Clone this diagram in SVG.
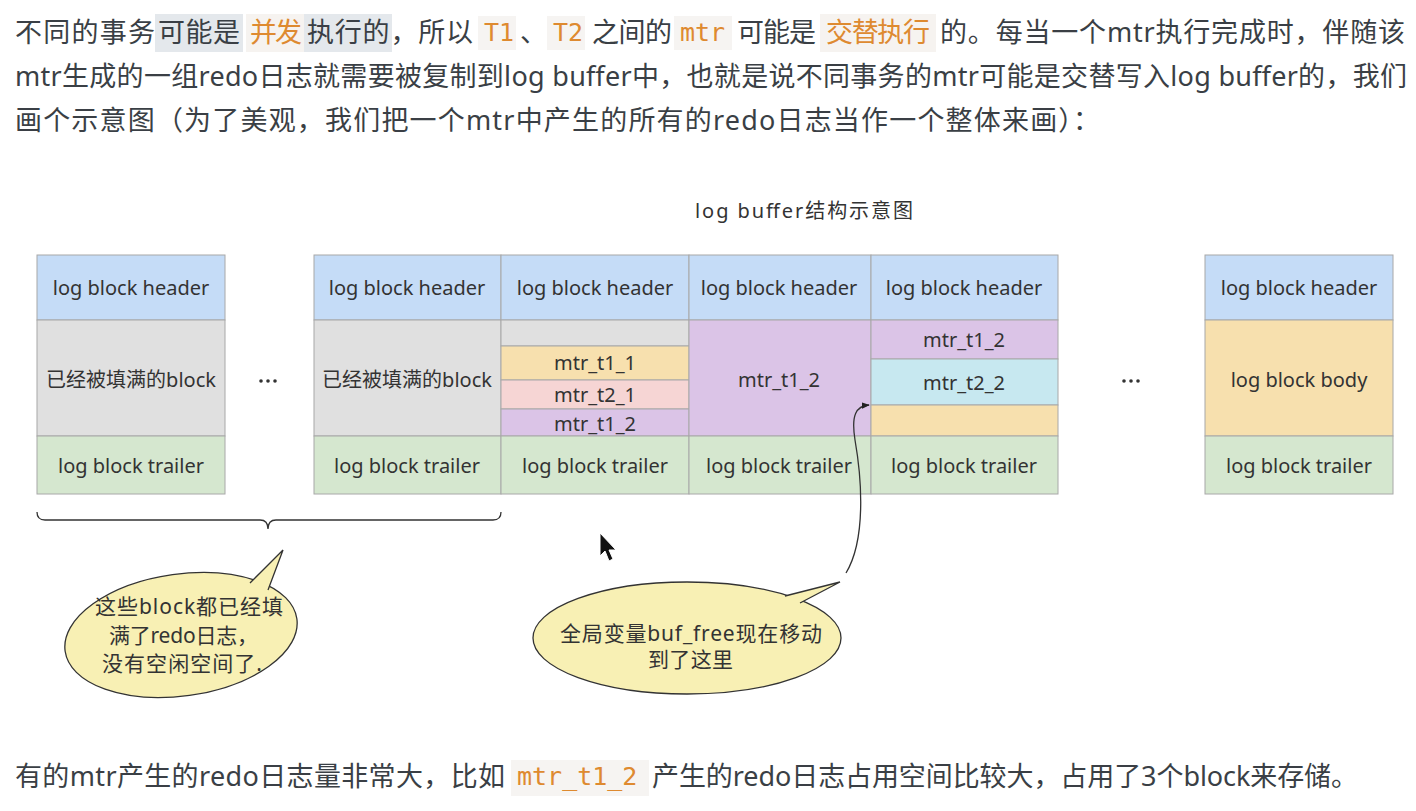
<svg xmlns="http://www.w3.org/2000/svg" width="1416" height="811" viewBox="0 0 1416 811">
<style>
.p{font-family:"Noto Sans","Noto Sans CJK SC",sans-serif;font-size:27px;fill:#3a3f45}
.o{fill:#de8a30}
.m{font-family:"DejaVu Sans Mono","Liberation Mono",monospace;font-size:25px;fill:#de8a30}
.t{font-family:"Noto Sans","Noto Sans CJK SC",sans-serif;font-size:20px;fill:#333;text-anchor:middle}
.b{font-family:"Noto Sans","Noto Sans CJK SC",sans-serif;font-size:21px;fill:#333}
.c{stroke:#a8a8a8;stroke-width:1}
.hd{fill:#c5dcf7}.gy{fill:#e0e0e0}.tr{fill:#d5e7cf}.ye{fill:#f7e0ae}.pk{fill:#f6d5d4}.pu{fill:#dbc4e7}.cy{fill:#c7e8f0}
.bub{fill:#f8f0b4;stroke:#333;stroke-width:1.3}
</style>
<defs>
<marker id="ah" viewBox="0 0 10 10" refX="9" refY="5" markerWidth="8" markerHeight="8" orient="auto" markerUnits="userSpaceOnUse">
<path d="M0,1 L10,5 L0,9 z" fill="#222"/>
</marker>
</defs>
<rect width="1416" height="811" fill="#fff"/>

<g id="para-top">
<rect x="155" y="14" width="88" height="38" fill="#e4e8ec"/>
<rect x="246" y="14" width="58" height="38" fill="#f6f3f0"/>
<rect x="304" y="14" width="88" height="38" fill="#e4e8ec"/>
<rect x="478" y="16" width="38" height="34" fill="#f6f4f2"/>
<rect x="547" y="16" width="38" height="34" fill="#f6f4f2"/>
<rect x="674" y="16" width="58" height="34" fill="#f6f4f2"/>
<rect x="820" y="14" width="116" height="38" fill="#f6f3f0"/>
<text class="p" x="15" y="42" textLength="140" lengthAdjust="spacing">不同的事务</text>
<text class="p" x="158" y="42" textLength="82" lengthAdjust="spacing">可能是</text>
<text class="p o" x="250" y="42" textLength="52" lengthAdjust="spacing">并发</text>
<text class="p" x="307" y="42" textLength="166" lengthAdjust="spacing">执行的，所以</text>
<text class="m" x="484" y="41">T1</text>
<text class="p" x="520" y="42">、</text>
<text class="m" x="553" y="41">T2</text>
<text class="p" x="592" y="42" textLength="80" lengthAdjust="spacing">之间的</text>
<text class="m" x="680" y="41">mtr</text>
<text class="p" x="737" y="42" textLength="79" lengthAdjust="spacing">可能是</text>
<text class="p o" x="826" y="42" textLength="104" lengthAdjust="spacing">交替执行</text>
<text class="p" x="940" y="42" textLength="465" lengthAdjust="spacing">的。每当一个mtr执行完成时，伴随该</text>
<text class="p" x="15" y="86" textLength="1392" lengthAdjust="spacing">mtr生成的一组redo日志就需要被复制到log buffer中，也就是说不同事务的mtr可能是交替写入log buffer的，我们</text>
<text class="p" x="15" y="130" textLength="1085" lengthAdjust="spacing">画个示意图（为了美观，我们把一个mtr中产生的所有的redo日志当作一个整体来画）：</text>
</g>

<g id="title">
<text class="t" x="804" y="218" font-size="22" textLength="218" lengthAdjust="spacing">log buffer结构示意图</text>
</g>

<g id="block1">
<rect class="hd c" x="37" y="255" width="188" height="65"/>
<rect class="gy c" x="37" y="320" width="188" height="116"/>
<rect class="tr c" x="37" y="436" width="188" height="58"/>
<text class="t" x="131" y="295">log block header</text>
<text class="t" x="131" y="387">已经被填满的block</text>
<text class="t" x="131" y="473">log block trailer</text>
</g>

<g id="dots1" fill="#333">
<circle cx="261" cy="381" r="1.8"/><circle cx="268" cy="381" r="1.8"/><circle cx="275" cy="381" r="1.8"/>
</g>

<g id="block2">
<rect class="hd c" x="314" y="255" width="187" height="65"/>
<rect class="gy c" x="314" y="320" width="187" height="116"/>
<rect class="tr c" x="314" y="436" width="187" height="58"/>
<text class="t" x="407" y="295">log block header</text>
<text class="t" x="407" y="387">已经被填满的block</text>
<text class="t" x="407" y="473">log block trailer</text>
</g>

<g id="block3">
<rect class="hd c" x="501" y="255" width="188" height="65"/>
<rect class="gy c" x="501" y="320" width="188" height="26"/>
<rect class="ye c" x="501" y="346" width="188" height="34"/>
<rect class="pk c" x="501" y="380" width="188" height="29"/>
<rect class="pu c" x="501" y="409" width="188" height="27"/>
<rect class="tr c" x="501" y="436" width="188" height="58"/>
<text class="t" x="595" y="295">log block header</text>
<text class="t" x="595" y="370">mtr_t1_1</text>
<text class="t" x="595" y="402">mtr_t2_1</text>
<text class="t" x="595" y="431">mtr_t1_2</text>
<text class="t" x="595" y="473">log block trailer</text>
</g>

<g id="block4">
<rect class="hd c" x="689" y="255" width="182" height="65"/>
<rect class="pu c" x="689" y="320" width="182" height="116"/>
<rect class="tr c" x="689" y="436" width="182" height="58"/>
<text class="t" x="779" y="295">log block header</text>
<text class="t" x="779" y="387">mtr_t1_2</text>
<text class="t" x="779" y="473">log block trailer</text>
</g>

<g id="block5">
<rect class="hd c" x="871" y="255" width="187" height="65"/>
<rect class="pu c" x="871" y="320" width="187" height="39"/>
<rect class="cy c" x="871" y="359" width="187" height="46"/>
<rect class="ye c" x="871" y="405" width="187" height="31"/>
<rect class="tr c" x="871" y="436" width="187" height="58"/>
<text class="t" x="964" y="295">log block header</text>
<text class="t" x="964" y="347">mtr_t1_2</text>
<text class="t" x="964" y="390">mtr_t2_2</text>
<text class="t" x="964" y="473">log block trailer</text>
</g>

<g id="dots2" fill="#333">
<circle cx="1124" cy="381" r="1.8"/><circle cx="1131" cy="381" r="1.8"/><circle cx="1138" cy="381" r="1.8"/>
</g>

<g id="block6">
<rect class="hd c" x="1205" y="255" width="188" height="65"/>
<rect class="ye c" x="1205" y="320" width="188" height="116"/>
<rect class="tr c" x="1205" y="436" width="188" height="58"/>
<text class="t" x="1299" y="295">log block header</text>
<text class="t" x="1299" y="387">log block body</text>
<text class="t" x="1299" y="473">log block trailer</text>
</g>

<g id="connectors" fill="none" stroke="#333" stroke-width="1.3">
<path d="M37,512 Q37,520 45,520 L260,520 Q268,520 268,529 Q268,520 276,520 L493,520 Q501,520 501,512"/>
<path d="M846,573 C866,540 862,480 855,440 C851,415 856,406 869,405" marker-end="url(#ah)"/>
</g>

<g id="bubble1">
<ellipse class="bub" cx="181" cy="635" rx="117" ry="61" transform="rotate(-8 181 635)"/>
<path class="bub" d="M250,583 L283,550 L268,590"/>
<text class="b" x="95" y="614" textLength="188" lengthAdjust="spacing">这些block都已经填</text>
<text class="b" x="109" y="643" textLength="149" lengthAdjust="spacing">满了redo日志，</text>
<text class="b" x="102" y="671" textLength="160" lengthAdjust="spacing">没有空闲空间了.</text>
</g>

<g id="bubble2">
<ellipse class="bub" cx="687" cy="638" rx="154" ry="56"/>
<path class="bub" d="M785,596 L840,582 L800,603"/>
<text class="b" x="560" y="641" textLength="262" lengthAdjust="spacing">全局变量buf_free现在移动</text>
<text class="b" x="648" y="667" textLength="85" lengthAdjust="spacing">到了这里</text>
</g>

<g id="cursor">
<path d="M600,533 L600,556 L605,551 L609,561 L613,559 L609,550 L616,550 z" fill="#111" stroke="#fff" stroke-width="1"/>
</g>

<g id="para-bottom">
<rect x="511" y="760" width="138" height="36" fill="#f6f4f2"/>
<text class="p" x="15" y="786" textLength="490" lengthAdjust="spacing">有的mtr产生的redo日志量非常大，比如</text>
<text class="m" x="517" y="785" font-size="26">mtr_t1_2</text>
<text class="p" x="652" y="786" textLength="706" lengthAdjust="spacing">产生的redo日志占用空间比较大，占用了3个block来存储。</text>
</g>
</svg>
